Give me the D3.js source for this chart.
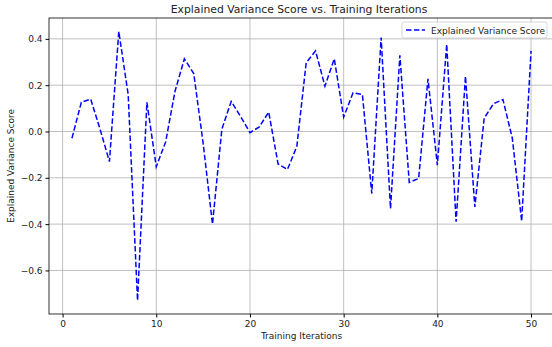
<!DOCTYPE html>
<html>
<head>
<meta charset="utf-8">
<script src="https://cdn.jsdelivr.net/npm/d3@7"></script>
<style>
  body { margin: 0; background: #fff; }
  svg { font-family: "DejaVu Sans", sans-serif; }
  .grid line { stroke: #b0b0b0; stroke-width: 0.8; }
  .axis text { fill: #222; }
</style>
</head>
<body>
<div id="vis"></div>
<script>
const FRAME_WIDTH = 552;
const FRAME_HEIGHT = 347;
const MARGINS = {left: 49, right: -2, top: 18, bottom: 33};

// data
const iterations = d3.range(1, 51);
const scores = [
  -0.029, 0.126, 0.140, 0.010, -0.130, 0.432, 0.160, -0.730, 0.126, -0.152,
  -0.045, 0.174, 0.314, 0.250, -0.050, -0.400, 0.010, 0.130, 0.065, -0.005,
  0.020, 0.084, -0.140, -0.164, -0.065, 0.297, 0.348, 0.196, 0.314, 0.062,
  0.167, 0.160, -0.268, 0.406, -0.333, 0.329, -0.220, -0.203, 0.227, -0.145,
  0.377, -0.390, 0.239, -0.326, 0.058, 0.120, 0.138, -0.029, -0.387, 0.348
];
const xTicks = [0, 10, 20, 30, 40, 50];
const yTicks = [-0.6, -0.4, -0.2, 0.0, 0.2, 0.4];

const VIS_WIDTH = FRAME_WIDTH - MARGINS.left - MARGINS.right;
const VIS_HEIGHT = FRAME_HEIGHT - MARGINS.top - MARGINS.bottom;

const FRAME = d3.select("#vis")
  .append("svg")
    .attr("width", FRAME_WIDTH)
    .attr("height", FRAME_HEIGHT);

// matplotlib style 5% padding
const xMin = d3.min(iterations), xMax = d3.max(iterations);
const xPad = (xMax - xMin) * 0.05;
const yMin = d3.min(scores), yMax = d3.max(scores);
const yPad = (yMax - yMin) * 0.05;

const X_SCALE = d3.scaleLinear()
  .domain([xMin - xPad, xMax + xPad])
  .range([0, VIS_WIDTH]);
const Y_SCALE = d3.scaleLinear()
  .domain([yMin - yPad, yMax + yPad])
  .range([VIS_HEIGHT, 0]);

const G = FRAME.append("g")
  .attr("transform", "translate(" + MARGINS.left + "," + MARGINS.top + ")");

// grid
G.append("g").attr("class", "grid")
  .selectAll("line.gx").data(xTicks).enter().append("line")
    .attr("x1", d => X_SCALE(d)).attr("x2", d => X_SCALE(d))
    .attr("y1", 0).attr("y2", VIS_HEIGHT);
G.append("g").attr("class", "grid")
  .selectAll("line.gy").data(yTicks).enter().append("line")
    .attr("x1", 0).attr("x2", VIS_WIDTH)
    .attr("y1", d => Y_SCALE(d)).attr("y2", d => Y_SCALE(d));

// line
const line = d3.line()
  .x((d, i) => X_SCALE(iterations[i]))
  .y(d => Y_SCALE(d));

G.append("path")
  .datum(scores)
  .attr("fill", "none")
  .attr("stroke", "#0000ff")
  .attr("stroke-width", 1.5)
  .attr("stroke-dasharray", "5.5,2.4")
  .attr("d", line);

// spines
G.append("rect")
  .attr("width", VIS_WIDTH).attr("height", VIS_HEIGHT)
  .attr("fill", "none").attr("stroke", "#000").attr("stroke-width", 0.8);

// axes
const fmtY = d => d3.format(".1f")(d).replace("-", "\u2212");
G.append("g").attr("class", "axis")
  .attr("transform", "translate(0," + VIS_HEIGHT + ")")
  .call(d3.axisBottom(X_SCALE).tickValues(xTicks).tickSize(3.5).tickPadding(3))
  .attr("font-size", "9px").attr("font-family", null)
  .call(g => g.select(".domain").remove());
G.append("g").attr("class", "axis")
  .call(d3.axisLeft(Y_SCALE).tickValues(yTicks).tickFormat(fmtY).tickSize(3.5).tickPadding(3))
  .attr("font-size", "9px").attr("font-family", null)
  .call(g => g.select(".domain").remove());

// labels
FRAME.append("text")
  .attr("x", MARGINS.left + 250).attr("y", 13)
  .attr("text-anchor", "middle").attr("font-size", "10.8px").attr("fill", "#222")
  .text("Explained Variance Score vs. Training Iterations");
FRAME.append("text")
  .attr("x", MARGINS.left + X_SCALE(25.5)).attr("y", 339)
  .attr("text-anchor", "middle").attr("font-size", "9px").attr("fill", "#222")
  .text("Training Iterations");
FRAME.append("text")
  .attr("transform", "translate(14," + (MARGINS.top + VIS_HEIGHT / 2) + ") rotate(-90)")
  .attr("text-anchor", "middle").attr("font-size", "9px").attr("fill", "#222")
  .text("Explained Variance Score");

// legend
const LEG = FRAME.append("g").attr("transform", "translate(402,22)");
LEG.append("rect")
  .attr("width", 145).attr("height", 16).attr("rx", 2)
  .attr("fill", "#fff").attr("fill-opacity", 0.8)
  .attr("stroke", "#ccc").attr("stroke-width", 0.8);
LEG.append("line")
  .attr("x1", 4).attr("x2", 23).attr("y1", 8).attr("y2", 8)
  .attr("stroke", "#0000ff").attr("stroke-width", 1.5)
  .attr("stroke-dasharray", "5.5,2.4");
LEG.append("text")
  .attr("x", 29).attr("y", 11.5).attr("font-size", "9px").attr("fill", "#222")
  .text("Explained Variance Score");
</script>
</body>
</html>
